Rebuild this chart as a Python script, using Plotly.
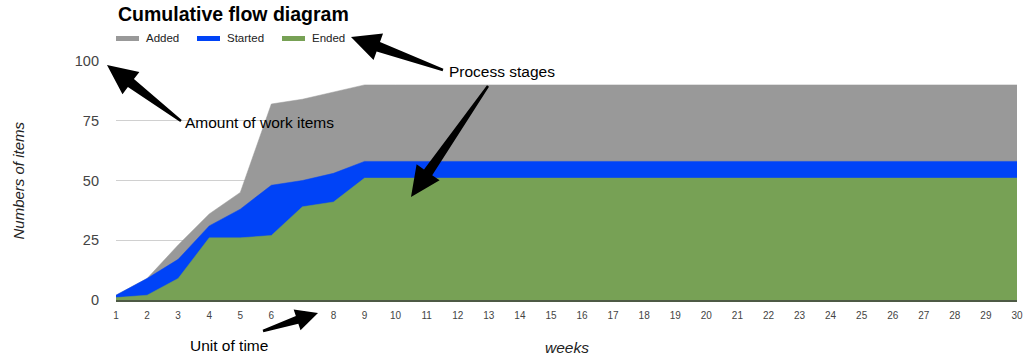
import math
import plotly.graph_objects as go

weeks = list(range(1, 31))
added = [2, 9, 23, 36, 45, 82, 84, 87, 90, 90, 90, 90, 90, 90, 90, 90, 90, 90, 90, 90, 90, 90, 90, 90, 90, 90, 90, 90, 90, 90]
started = [2, 9, 17, 31, 38, 48, 50, 53, 58, 58, 58, 58, 58, 58, 58, 58, 58, 58, 58, 58, 58, 58, 58, 58, 58, 58, 58, 58, 58, 58]
ended = [1, 2, 9, 26, 26, 27, 39, 41, 51, 51, 51, 51, 51, 51, 51, 51, 51, 51, 51, 51, 51, 51, 51, 51, 51, 51, 51, 51, 51, 51]
y_ticks = [0, 25, 50, 75, 100]

series_names = ["Added", "Started", "Ended"]
series_colors = ["#999999", "#0043f7", "#77a155"]

W, H = 1024, 362
L, R, T, B = 116, 1017, 61, 300
FONT = "Arial, Liberation Sans, sans-serif"


def px(x):
    return (x - L) / (R - L)


def py(y):
    return (B - y) / (B - T)


fig = go.Figure()
for name, vals, col in zip(series_names, [added, started, ended], series_colors):
    fig.add_trace(go.Scatter(
        x=weeks, y=vals, name=name, mode="lines",
        line=dict(color=col, width=0.5), fill="tozeroy", fillcolor=col,
        showlegend=False, hoverinfo="x+y+name"))


def wedge(tail, tip, head_len, head_w, neck_w, tail_w):
    dx, dy = tip[0] - tail[0], tip[1] - tail[1]
    d = math.hypot(dx, dy)
    ux, uy = dx / d, dy / d
    nx, ny = -uy, ux
    neck = (tip[0] - ux * head_len, tip[1] - uy * head_len)
    pts = [
        (tail[0] + nx * tail_w, tail[1] + ny * tail_w),
        (neck[0] + nx * neck_w, neck[1] + ny * neck_w),
        (neck[0] + nx * head_w, neck[1] + ny * head_w),
        tip,
        (neck[0] - nx * head_w, neck[1] - ny * head_w),
        (neck[0] - nx * neck_w, neck[1] - ny * neck_w),
        (tail[0] - nx * tail_w, tail[1] - ny * tail_w),
    ]
    path = "M " + " L ".join(f"{px(x):.5f},{py(y):.5f}" for x, y in pts) + " Z"
    return dict(type="path", path=path, xref="paper", yref="paper",
                fillcolor="black", line=dict(width=0), layer="above")


shapes = [
    wedge((443, 70), (351, 37), 29, 14, 5, 1.2),
    wedge((488, 86), (411, 197), 30, 14, 5, 1.2),
    wedge((181, 121), (107, 65), 30, 14, 5, 1.2),
    wedge((263, 331), (318, 313), 22, 11, 4, 1.2),
]

legend_x = [116, 197, 282]
for xl, col in zip(legend_x, series_colors):
    shapes.append(dict(type="rect", xref="paper", yref="paper",
                       x0=px(xl), x1=px(xl + 23), y0=py(41), y1=py(36),
                       fillcolor=col, line=dict(width=0)))

annotations = []
for xl, name in zip(legend_x, series_names):
    annotations.append(dict(text=name, x=px(xl + 28), y=py(38.5), xref="paper", yref="paper",
                            xanchor="left", yanchor="middle", showarrow=False,
                            font=dict(family=FONT, size=11.5, color="#222222")))

extra = [
    dict(text="<b>Cumulative flow diagram</b>", x=px(116), y=py(14), xanchor="left", yanchor="middle",
         font=dict(family=FONT, size=19.5, color="black")),
    dict(text="Process stages", x=px(502), y=py(71), xanchor="center", yanchor="middle",
         font=dict(family=FONT, size=15.5, color="black")),
    dict(text="Amount of work items", x=px(183), y=py(122), xanchor="left", yanchor="middle",
         font=dict(family=FONT, size=15.5, color="black")),
    dict(text="Unit of time", x=px(188), y=py(345), xanchor="left", yanchor="middle",
         font=dict(family=FONT, size=15.5, color="black")),
    dict(text="<i>weeks</i>", x=0.5, y=py(347), xanchor="center", yanchor="middle",
         font=dict(family=FONT, size=15.5, color="#222222")),
    dict(text="<i>Numbers of items</i>", x=px(18), y=0.5, xanchor="center", yanchor="middle",
         textangle=-90, font=dict(family=FONT, size=15, color="#222222")),
]
for a in extra:
    a.update(xref="paper", yref="paper", showarrow=False)
annotations += extra

fig.update_layout(
    width=W, height=H,
    margin=dict(l=L, r=W - R, t=T, b=H - B, pad=0, autoexpand=False),
    paper_bgcolor="white", plot_bgcolor="white",
    showlegend=False,
    shapes=shapes,
    annotations=annotations,
    xaxis=dict(range=[1, 30], tickvals=weeks, ticktext=[str(w) for w in weeks],
               automargin=False,
               showgrid=False, zeroline=False, showline=True, linecolor="#4d5a45", linewidth=1.5,
               ticks="", ticklabelstandoff=5,
               tickfont=dict(family=FONT, size=10, color="#444444"), fixedrange=True),
    yaxis=dict(range=[0, 100], tickvals=y_ticks, showgrid=True, gridcolor="#d0d0d0", gridwidth=1,
               automargin=False,
               zeroline=False, showline=False, ticks="", ticklabelstandoff=16,
               tickfont=dict(family=FONT, size=14.5, color="#444444"), fixedrange=True),
)

fig.write_html("out.html", config={"displayModeBar": False},
               post_script="document.body.style.margin='0';document.body.style.overflow='hidden';")
